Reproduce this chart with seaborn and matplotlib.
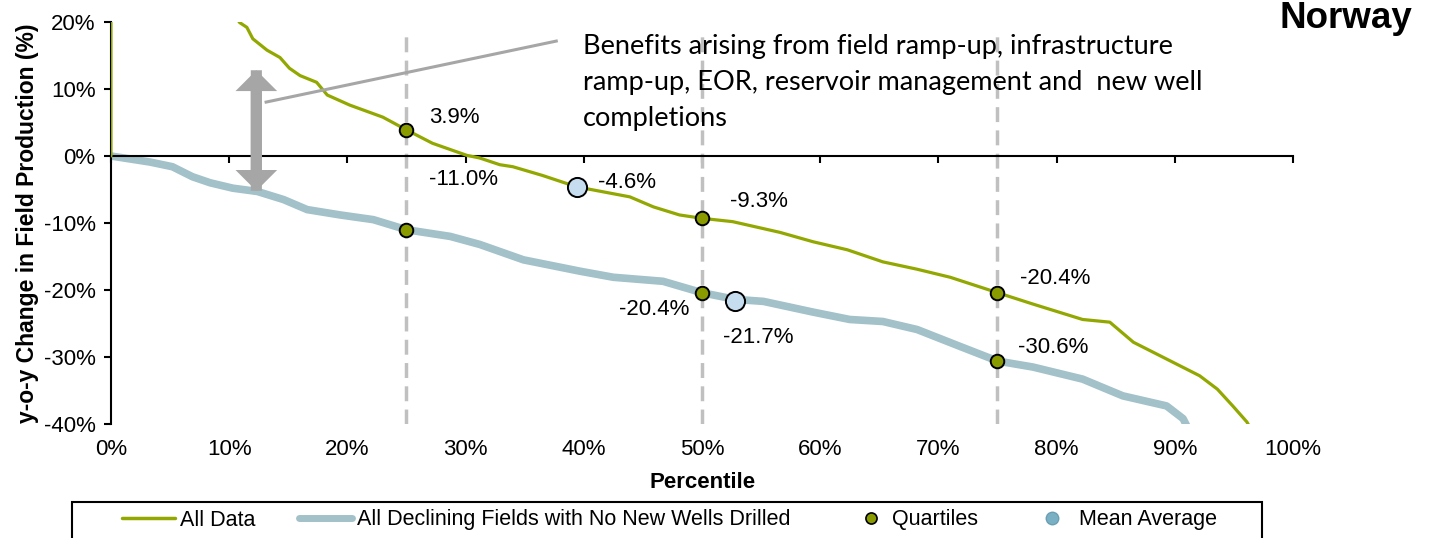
import pandas as pd
import seaborn as sns
import matplotlib.pyplot as plt
from matplotlib.lines import Line2D
from matplotlib.patches import Rectangle
from matplotlib.legend_handler import HandlerLine2D
from matplotlib.ticker import FuncFormatter

# All data (green) - percentile vs y-o-y change
pct_all = [0.0, 0.0, 5.0, 10.0, 10.9, 11.5, 12.0, 13.2, 14.3, 15.1, 16.0, 17.4, 18.3,
           20.2, 23.0, 25.0, 27.2, 30.1, 31.2, 32.9, 34.0, 36.5, 39.4, 43.9, 45.9,
           48.1, 50.0, 52.6, 56.6, 59.4, 62.3, 65.3, 68.2, 71.0, 75.0, 78.0, 82.2,
           84.5, 86.5, 89.3, 92.1, 93.6, 94.9, 96.1, 96.5]
chg_all = [0.0, 60.0, 35.0, 22.0, 19.9, 19.2, 17.5, 15.8, 14.7, 13.1, 12.0, 11.0, 9.1,
           7.6, 5.8, 3.9, 1.9, 0.1, -0.3, -1.3, -1.6, -2.9, -4.6, -6.1, -7.6,
           -8.8, -9.3, -9.8, -11.4, -12.8, -14.0, -15.8, -16.9, -18.1, -20.4, -22.1, -24.4,
           -24.8, -27.8, -30.3, -32.8, -34.8, -37.3, -39.7, -41.0]

# declining fields with no new wells drilled (blue)
pct_dec = [0.0, 3.3, 5.2, 6.9, 8.4, 10.3, 12.4, 14.6, 16.6, 19.4, 22.2, 25.0, 28.7,
           31.2, 34.9, 39.7, 42.5, 46.7, 50.0, 52.8, 55.2, 59.4, 62.5, 65.3, 68.2,
           71.8, 75.0, 78.0, 82.2, 85.6, 89.3, 90.7, 91.5]
chg_dec = [0.0, -0.9, -1.6, -3.1, -4.0, -4.8, -5.3, -6.5, -8.0, -8.8, -9.5, -11.0, -12.0,
           -13.2, -15.5, -17.2, -18.1, -18.7, -20.4, -21.4, -21.7, -23.3, -24.4, -24.7, -25.9,
           -28.4, -30.6, -31.5, -33.3, -35.8, -37.3, -39.2, -42.0]

quart_pct = [25, 50, 75, 25, 50, 75]
quart_val = [3.9, -9.3, -20.4, -11.0, -20.4, -30.6]
mean_pct = [39.4, 52.8]
mean_val = [-4.6, -21.7]

# label offsets in points (dx, dy) and alignment
quart_off = [(16, 9, 'left'), (20, 12, 'left'), (16, 10, 'left'),
             (16, 36, 'left'), (-9, -12, 'right'), (15, 10, 'left')]
mean_off = [(15, 3, 'left'), (-9, -26, 'left')]

GREEN = '#92a800'
OLIVE = '#8a9b00'
BLUE = '#a2c1c9'
MEAN = '#c6dcef'

sns.set_style('white')
plt.rcParams['font.family'] = ['Liberation Sans', 'DejaVu Sans']
plt.rcParams['text.color'] = 'black'
plt.rcParams['axes.labelcolor'] = 'black'
plt.rcParams['xtick.color'] = 'black'
plt.rcParams['ytick.color'] = 'black'

fig = plt.figure(figsize=(14.37, 5.38), dpi=100)
ax = fig.add_axes([0.0772, 0.2119, 0.8226, 0.7472])

df_all = pd.DataFrame({'pct': pct_all, 'chg': chg_all})
df_dec = pd.DataFrame({'pct': pct_dec, 'chg': chg_dec})

# quartile guide lines
ax.vlines([25, 50, 75], -40, 18.8, colors='#c0c0c0', lw=2.5,
          linestyles=(0, (4.3, 2.4)), zorder=1)

sns.lineplot(data=df_dec, x='pct', y='chg', ax=ax, color=BLUE, lw=5.5,
             sort=False, estimator=None, zorder=2)
sns.lineplot(data=df_all, x='pct', y='chg', ax=ax, color=GREEN, lw=2.3,
             sort=False, estimator=None, zorder=3)

sns.scatterplot(x=quart_pct, y=quart_val, ax=ax, color=OLIVE, s=95,
                edgecolor='black', linewidth=1.4, zorder=5)
sns.scatterplot(x=mean_pct, y=mean_val, ax=ax, color=MEAN, s=190,
                edgecolor='black', linewidth=1.4, zorder=5)

for x, y, (dx, dy, ha) in zip(quart_pct, quart_val, quart_off):
    ax.annotate(f'{y:.1f}%', (x, y), xytext=(dx, dy), textcoords='offset points',
                ha=ha, va='center', fontsize=16)
for x, y, (dx, dy, ha) in zip(mean_pct, mean_val, mean_off):
    ax.annotate(f'{y:.1f}%', (x, y), xytext=(dx, dy), textcoords='offset points',
                ha=ha, va='center', fontsize=16)

# fat double arrow + leader line
arr = dict(arrowstyle='simple,head_width=30,head_length=15,tail_width=8',
           color='#a6a6a6', mutation_scale=1, shrinkA=0, shrinkB=0, lw=0)
ax.annotate('', xy=(12.3, 12.8), xytext=(12.3, -5.2), arrowprops=arr, zorder=4)
ax.annotate('', xy=(12.3, -5.2), xytext=(12.3, 12.8), arrowprops=arr, zorder=4)
ax.plot([13.0, 37.8], [8.0, 17.2], color='#a6a6a6', lw=2.2, zorder=4,
        solid_capstyle='butt')

ax.set_xlim(0, 100)
ax.set_ylim(-40, 20)

ax.spines['top'].set_visible(False)
ax.spines['right'].set_visible(False)
ax.spines['bottom'].set_position(('data', 0))
for s in ['left', 'bottom']:
    ax.spines[s].set_linewidth(1.5)
    ax.spines[s].set_color('black')

pct_fmt = FuncFormatter(lambda v, p: f'{v:.0f}%')
ax.set_xticks(range(0, 101, 10))
ax.set_yticks(range(-40, 21, 10))
ax.yaxis.set_major_formatter(pct_fmt)
ax.tick_params(axis='x', bottom=True, direction='out', length=5, width=1.5,
               labelbottom=False)
ax.tick_params(axis='y', left=True, direction='out', length=5, width=1.5,
               labelsize=16, pad=6)

sec = ax.secondary_xaxis('bottom')
sec.set_xticks(range(0, 101, 10))
sec.xaxis.set_major_formatter(pct_fmt)
sec.spines['bottom'].set_visible(False)
sec.tick_params(length=0, labelsize=16, pad=11)

ax.set_xlabel('')
ax.set_ylabel('y-o-y Change in Field Production (%)', fontsize=16.5, weight='bold')
ax.yaxis.set_label_coords(-0.061, 0.5)
fig.text(0.489, 1 - 482 / 538, 'Percentile', ha='center', va='center',
         fontsize=16, weight='bold')

fig.text(583 / 1437, 1 - 34 / 538,
         'Benefits arising from field ramp-up, infrastructure\n'
         'ramp-up, EOR, reservoir management and  new well\n'
         'completions',
         ha='left', va='top', fontsize=19.5, family=['Lato', 'DejaVu Sans'],
         linespacing=1.55)

fig.text(1412 / 1437, 1 - 19 / 538, 'Norway', ha='right', va='center',
         fontsize=26.5, weight='bold')

h_all = Line2D([], [], color=GREEN, lw=2.5)
h_dec = Line2D([], [], color=BLUE, lw=5)
h_q = Line2D([], [], ls='none', marker='o', markersize=8, markerfacecolor=OLIVE,
             markeredgecolor='black', markeredgewidth=1.2)
h_m = Line2D([], [], ls='none', marker='o', markersize=9, markerfacecolor='#7ab0c4',
             markeredgecolor='#6a9fb3', markeredgewidth=1.0)
labels = ['All Data', 'All Declining Fields with No New Wells Drilled',
          'Quartiles', 'Mean Average']
fig.legend([h_all, h_dec, h_q, h_m], labels, ncol=4, loc='center left',
           bbox_to_anchor=(122 / 1437, 1 - 520 / 538), fontsize=15.5,
           handlelength=2.46, handletextpad=0.25, columnspacing=2.0,
           frameon=False, borderpad=0, borderaxespad=0,
           handler_map={h_q: HandlerLine2D(numpoints=1, xpad=1.0),
                        h_m: HandlerLine2D(numpoints=1, xpad=0.4)})
# legend box (bottom edge runs off the figure)
fig.patches.append(Rectangle((72 / 1437, -0.05), 1190 / 1437, 0.05 + 1 - 502 / 538,
                             transform=fig.transFigure, fill=False,
                             edgecolor='black', lw=1.5))

fig.savefig('out.png', dpi=100)
